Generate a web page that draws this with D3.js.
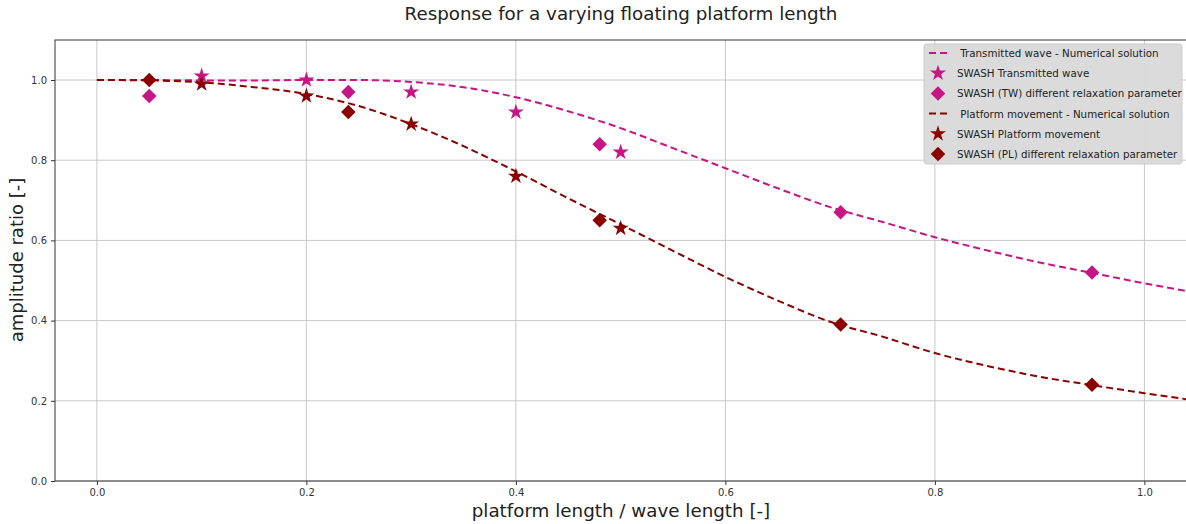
<!DOCTYPE html>
<html>
<head>
<meta charset="utf-8">
<script src="https://cdn.jsdelivr.net/npm/d3@7"></script>
<style>
  body { margin: 0; background: #fff; }
  text { font-family: "DejaVu Sans", sans-serif; }
</style>
</head>
<body>
<script>
// numerical solution curves
const curveX = [0, 0.05, 0.1, 0.15, 0.2, 0.25, 0.3, 0.35, 0.4, 0.45, 0.5, 0.55, 0.6, 0.65, 0.7, 0.75, 0.8, 0.85, 0.9, 0.95, 1.0, 1.04]
const twCurve = [1.0, 1.0, 0.999, 0.999, 1.0, 1.0, 0.995, 0.982, 0.957, 0.922, 0.88, 0.83, 0.78, 0.73, 0.683, 0.646, 0.608, 0.575, 0.545, 0.519, 0.493, 0.474]
const plCurve = [1.0, 0.999, 0.994, 0.982, 0.965, 0.935, 0.89, 0.835, 0.772, 0.705, 0.64, 0.574, 0.509, 0.45, 0.397, 0.36, 0.319, 0.287, 0.26, 0.239, 0.219, 0.204]

// SWASH results
const starX = [0.1, 0.2, 0.3, 0.4, 0.5]
const twStars = [1.01, 1.0, 0.97, 0.92, 0.82]
const plStars = [0.99, 0.96, 0.89, 0.76, 0.63]
const diamondX = [0.05, 0.24, 0.48, 0.71, 0.95]
const twDiamonds = [0.96, 0.97, 0.84, 0.67, 0.52]
const plDiamonds = [1.0, 0.92, 0.65, 0.39, 0.24]

const xTicks = [0, 0.2, 0.4, 0.6, 0.8, 1.0]
const yTicks = [0, 0.2, 0.4, 0.6, 0.8, 1.0]

const legendItems = [
    {label: ' Transmitted wave - Numerical solution', type: 'line', color: '#c71585'},
    {label: 'SWASH Transmitted wave', type: 'star', color: '#c71585'},
    {label: 'SWASH (TW) different relaxation parameter', type: 'diamond', color: '#c71585'},
    {label: ' Platform movement - Numerical solution', type: 'line', color: '#8b0000'},
    {label: 'SWASH Platform movement', type: 'star', color: '#8b0000'},
    {label: 'SWASH (PL) different relaxation parameter', type: 'diamond', color: '#8b0000'}
]

const m = {width: 1186, height: 524, left: 55, right: 1190, top: 40, bottom: 481}

const svg = d3.select('body').append('svg')
    .attr('width', m.width)
    .attr('height', m.height)

const x = d3.scaleLinear().domain([-0.04, 1.04]).range([m.left, m.left + (1.08 * 1047.5)])
const y = d3.scaleLinear().domain([0, 1.1]).range([m.bottom, m.bottom - 1.1 * 401])

svg.append('defs').append('clipPath').attr('id', 'plot')
    .append('rect')
    .attr('x', m.left).attr('y', m.top)
    .attr('width', m.right - m.left).attr('height', m.bottom - m.top)

// grid
const grid = svg.append('g')
grid.selectAll('.vx').data(xTicks).enter().append('line')
    .attr('x1', d => x(d)).attr('x2', d => x(d))
    .attr('y1', m.top).attr('y2', m.bottom)
    .attr('stroke', '#c8c8c8').attr('stroke-width', 1)
grid.selectAll('.hy').data(yTicks).enter().append('line')
    .attr('x1', m.left).attr('x2', m.right)
    .attr('y1', d => y(d)).attr('y2', d => y(d))
    .attr('stroke', '#c8c8c8').attr('stroke-width', 1)

// axes
const xAxis = svg.append('g')
    .attr('transform', `translate(0,${m.bottom})`)
    .call(d3.axisBottom(x).tickValues(xTicks).tickFormat(d3.format('.1f')).tickSize(4).tickPadding(4))
const yAxis = svg.append('g')
    .attr('transform', `translate(${m.left},0)`)
    .call(d3.axisLeft(y).tickValues(yTicks).tickFormat(d3.format('.1f')).tickSize(4).tickPadding(4))
xAxis.select('.domain').remove()
yAxis.select('.domain').remove()
svg.selectAll('.tick text').attr('font-size', 10).attr('fill', '#333')
    .style('font-family', '"DejaVu Sans", sans-serif')
svg.selectAll('.tick line').attr('stroke', '#333')

// spines
svg.append('rect')
    .attr('x', m.left).attr('y', m.top)
    .attr('width', m.right - m.left).attr('height', m.bottom - m.top)
    .attr('fill', 'none').attr('stroke', '#333').attr('stroke-width', 1)

const plot = svg.append('g').attr('clip-path', 'url(#plot)')

const line = d3.line()
    .x(d => x(d[0]))
    .y(d => y(d[1]))
    .curve(d3.curveMonotoneX)

plot.append('path')
    .datum(curveX.map((d, i) => [d, twCurve[i]]))
    .attr('d', line)
    .attr('fill', 'none').attr('stroke', '#c71585').attr('stroke-width', 2)
    .attr('stroke-dasharray', '7,4')
plot.append('path')
    .datum(curveX.map((d, i) => [d, plCurve[i]]))
    .attr('d', line)
    .attr('fill', 'none').attr('stroke', '#8b0000').attr('stroke-width', 2)
    .attr('stroke-dasharray', '7,4')

const star = d3.symbol().type(d3.symbolStar).size(80)
const diamond = d3.symbol().type(d3.symbolSquare).size(105)

function drawStars(xs, ys, color) {
    plot.selectAll(null)
        .data(xs.map((d, i) => [d, ys[i]]))
        .enter()
        .append('path')
            .attr('d', star)
            .attr('transform', d => `translate(${x(d[0])},${y(d[1])})`)
            .attr('fill', color)
}

function drawDiamonds(xs, ys, color) {
    plot.selectAll(null)
        .data(xs.map((d, i) => [d, ys[i]]))
        .enter()
        .append('path')
            .attr('d', diamond)
            .attr('transform', d => `translate(${x(d[0])},${y(d[1])}) rotate(45)`)
            .attr('fill', color)
}

drawStars(starX, twStars, '#c71585')
drawDiamonds(diamondX, twDiamonds, '#c71585')
drawStars(starX, plStars, '#8b0000')
drawDiamonds(diamondX, plDiamonds, '#8b0000')

// legend
const lg = svg.append('g').attr('transform', 'translate(924,44)')
lg.append('rect')
    .attr('width', 258).attr('height', 120)
    .attr('rx', 3)
    .attr('fill', '#d9d9d9').attr('fill-opacity', 0.95)
    .attr('stroke', '#cccccc')

legendItems.forEach(function(item, i) {
    const cy = 9 + i * 20.2
    const row = lg.append('g').attr('transform', `translate(0,${cy})`)
    if (item.type === 'line') {
        row.append('line')
            .attr('x1', 5).attr('x2', 24)
            .attr('stroke', item.color).attr('stroke-width', 2)
            .attr('stroke-dasharray', '7,4')
    } else if (item.type === 'star') {
        row.append('path').attr('d', star).attr('transform', 'translate(14,0)').attr('fill', item.color)
    } else {
        row.append('path').attr('d', diamond).attr('transform', 'translate(14,0) rotate(45)').attr('fill', item.color)
    }
    row.append('text')
        .attr('x', 33).attr('y', 4)
        .attr('font-size', 10.3)
        .attr('fill', '#222')
        .attr('xml:space', 'preserve')
        .style('white-space', 'pre')
        .text(item.label)
})

// titles
svg.append('text')
    .attr('x', 621).attr('y', 20)
    .attr('text-anchor', 'middle')
    .attr('font-size', 18.3)
    .attr('fill', '#222')
    .text('Response for a varying floating platform length')

svg.append('text')
    .attr('x', 621).attr('y', 517)
    .attr('text-anchor', 'middle')
    .attr('font-size', 18.3)
    .attr('fill', '#222')
    .text('platform length / wave length [-]')

svg.append('text')
    .attr('transform', 'translate(23,260) rotate(-90)')
    .attr('text-anchor', 'middle')
    .attr('font-size', 18)
    .attr('fill', '#222')
    .text('amplitude ratio [-]')
</script>
</body>
</html>
